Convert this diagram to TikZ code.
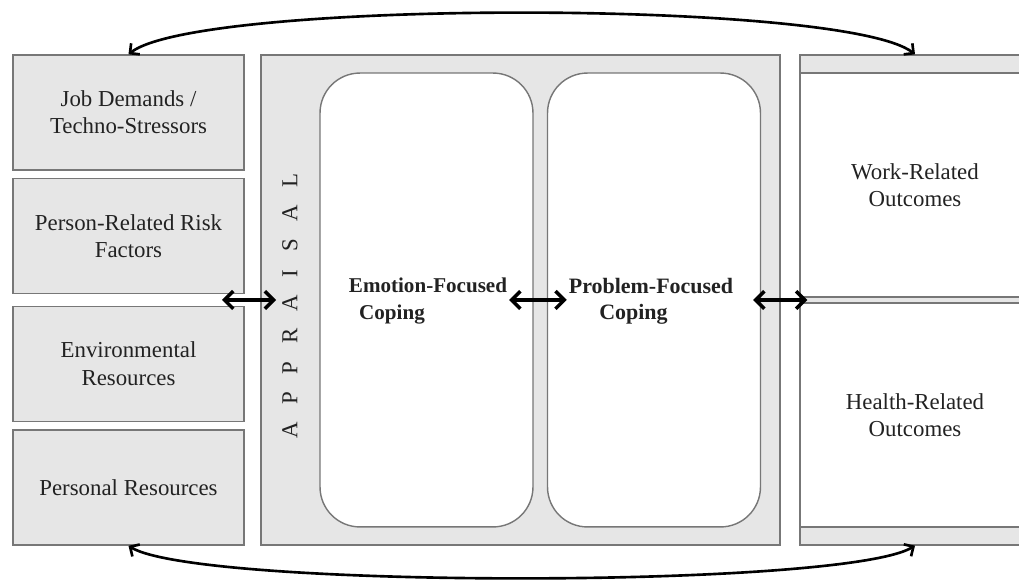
\documentclass[tikz,border=0pt]{standalone}
\usepackage{fontspec}
\setmainfont{Liberation Serif}
\usetikzlibrary{arrows.meta}
\usetikzlibrary{positioning}
\definecolor{boxgray}{HTML}{E6E6E6}
\definecolor{linegray}{HTML}{777777}
\definecolor{textgray}{HTML}{222222}
\tikzstyle{factor} = [rectangle, fill=boxgray, draw=linegray, line width=0.8pt,
minimum width=4.62cm, minimum height=2.3cm, align=center, text=textgray,
font=\fontsize{13}{15.5}\selectfont]
\tikzstyle{coping} = [rectangle, rounded corners=0.8cm, fill=white, draw=linegray,
line width=0.8pt, minimum width=4.26cm, minimum height=9.08cm]

\begin{document}
\begin{tikzpicture}[x=0.02cm, y=-0.02cm]

\tikzstyle{panel} = [rectangle, fill=boxgray, draw=linegray, line width=0.8pt,
minimum height=9.8cm]
\tikzstyle{outcome} = [rectangle, fill=white, draw=linegray, line width=0.8pt,
minimum width=4.6cm, minimum height=4.48cm, align=center, text=textgray,
font=\fontsize{13}{15.5}\selectfont]
\tikzstyle{dblarrow} = [{Straight Barb[length=5pt,width=10pt]}-{Straight Barb[length=5pt,width=10pt]}, line width=2pt]
\tikzstyle{loop} = [{Straight Barb[length=4pt,width=8pt]}-{Straight Barb[length=4pt,width=8pt]}, line width=1.5pt]

\useasboundingbox (0,0) rectangle (1019,580);
\clip (0,0) rectangle (1019,580);

% stressors and resources
\node[factor] (jobdem) at (128.5,112.5) {Job Demands /\\Techno-Stressors};
\node[factor, below=0.14cm of jobdem] (persrisk) {Person-Related Risk\\Factors};
\node[factor, below=0.23cm of persrisk] (envres) {Environmental\\Resources};
\node[factor, below=0.15cm of envres] (persres) {Personal Resources};

% appraisal and coping
\node[panel, minimum width=10.38cm] (apprpanel) at (520.5,300) {};
\node[coping] (efbox) at (426.5,300) {};
\node[coping] (pfbox) at (654,300) {};
\node[rotate=90, text=textgray, font=\fontsize{13}{13}\selectfont] (appr) at (290,306)
  {A\hskip10pt P\hskip10pt P\hskip10pt R\hskip10pt A\hskip10pt I\hskip10pt S\hskip10pt A\hskip10pt L};
\node[align=center, inner sep=1pt, text=textgray, font=\bfseries\fontsize{12}{15}\selectfont] (eftxt) at (428,301)
  {Emotion-Focused\\Coping\hspace*{1.44cm}};
\node[align=center, inner sep=1pt, text=textgray, font=\bfseries\fontsize{12.5}{15}\selectfont] (pftxt) at (651,301)
  {Problem-Focused\\Coping\hspace*{0.7cm}};

% outcomes
\node[panel, minimum width=4.6cm] (outpanel) at (915,300) {};
\node[outcome] (workout) at (915,185) {Work-Related\\Outcomes};
\node[outcome] (healthout) at (915,415) {Health-Related\\Outcomes};

\coordinate (lgap) at (222,300);
\draw[dblarrow] (lgap) -- (lgap -| appr.north);
\draw[dblarrow] (eftxt.east |- 0,300) -- (pftxt.west |- 0,300);
\draw[dblarrow, shorten <=-0.16cm, shorten >=-0.16cm] (pfbox.east) -- (outpanel.west);

\draw[loop] (jobdem.north) .. controls ([shift={(70,-55)}]jobdem.north) and ([shift={(-70,-55)}]outpanel.north) .. (outpanel.north);
\draw[loop] (persres.south) .. controls ([shift={(70,43)}]persres.south) and ([shift={(-70,43)}]outpanel.south) .. (outpanel.south);

\end{tikzpicture}
\end{document}
